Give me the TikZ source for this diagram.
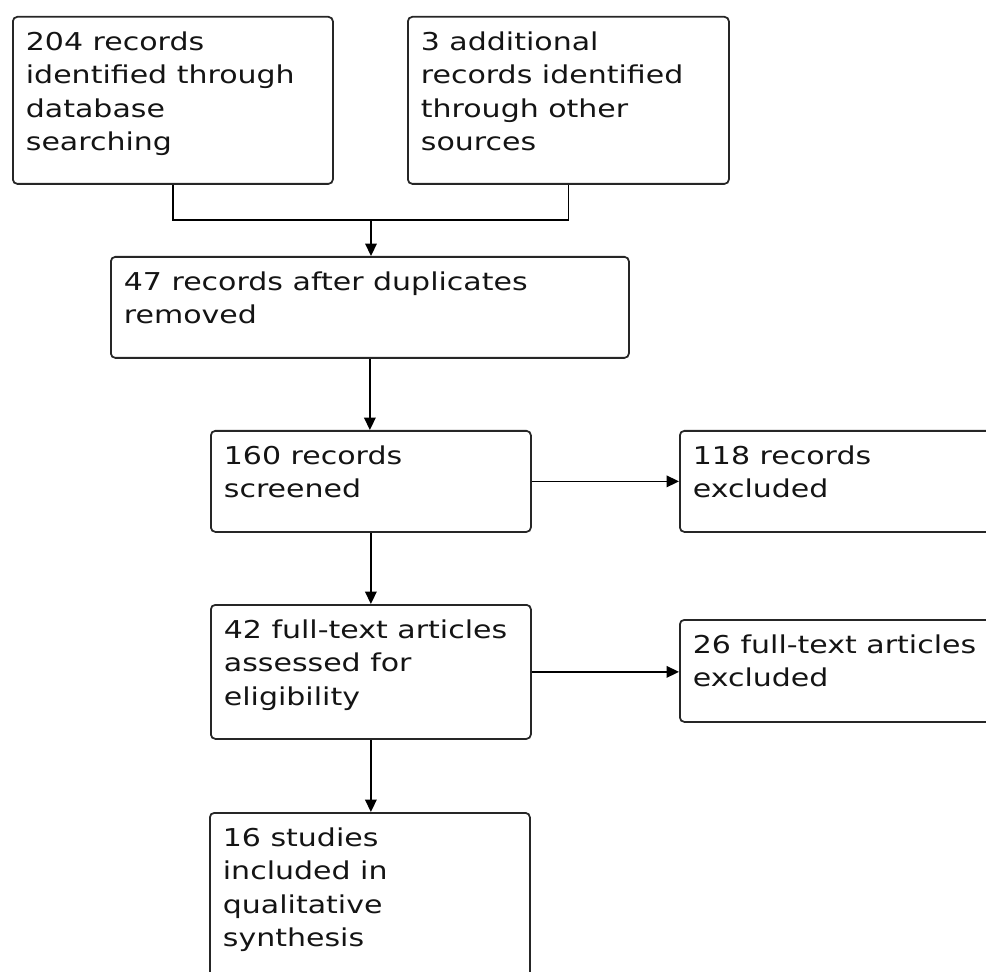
\documentclass[tikz,border=0pt]{standalone}
\usepackage{fontspec}
\setsansfont[FakeStretch=1.22]{DejaVu Sans}
\usetikzlibrary{arrows.meta}
\newlength\px
\setlength\px{0.02cm}
% box text: width, height, lines
\newcommand{\stagetext}[3]{\parbox[t][#2][t]{#1}{\raggedright\strut #3}}
\tikzset{
  stage/.style={draw=black!85, line width=1pt, rounded corners=2.5pt,
    anchor=north west, inner xsep=13\px, inner ysep=10\px,
    font=\sffamily\fontsize{14}{19}\selectfont, text=black!92},
  link/.style={draw=black, line width=1pt},
  arr/.style={link, -{Triangle[length=7pt,width=6.5pt]}}
}
\begin{document}
\begin{tikzpicture}[x=0.02cm, y=-0.02cm]
\useasboundingbox (0,0) rectangle (986,972);
\clip (0,0) rectangle (986,972);

% identification
\node[stage] (rec) at (12,16) {\stagetext{294\px}{147\px}{204 records\\identified through\\database\\searching}};
\node[stage] (add) at (407,16) {\stagetext{295\px}{147\px}{3 additional\\records identified\\through other\\sources}};
\node[stage] (dup) at (110,256) {\stagetext{492\px}{81\px}{47 records after duplicates\\removed}};

% screening and eligibility
\node[stage] (scr) at (210,430) {\stagetext{294\px}{81\px}{160 records\\screened}};
\node[stage] (exc) at (679,430) {\stagetext{304\px}{81\px}{118 records\\excluded}};
\node[stage] (full) at (210,604) {\stagetext{294\px}{114\px}{42 full-text articles\\assessed for\\eligibility}};
\node[stage] (fexc) at (679,619) {\stagetext{304\px}{82\px}{26 full-text articles\\excluded}};

% included
\node[stage] (incl) at (209,812) {\stagetext{294\px}{160\px}{16 studies\\included in\\qualitative\\synthesis}};

% connectors
\coordinate (join) at (371,220);
\draw[link] (rec.south) |- (join) -| (add.south);
\draw[arr] (join) -- (join |- dup.north);
\draw[arr] (dup.south) -- (dup.south |- scr.north);
\draw[arr] (scr.east) -- (exc.west);
\draw[arr] (scr.south) -- (full.north);
\draw[arr] (full.east) -- (full.east -| fexc.west);
\draw[arr] (full.south) -- (full.south |- incl.north);

\end{tikzpicture}
\end{document}
